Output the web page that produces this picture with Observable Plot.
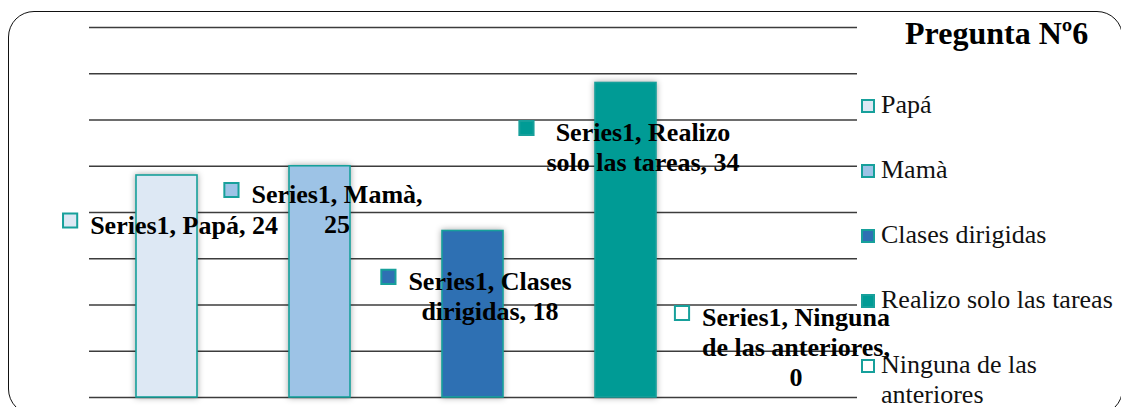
<!DOCTYPE html>
<html>
<head>
<meta charset="utf-8">
<script src="https://cdn.jsdelivr.net/npm/d3@7"></script>
<script src="https://cdn.jsdelivr.net/npm/@observablehq/plot@0.6"></script>
<style>
  html, body { margin: 0; padding: 0; background: #fff; }
  #wrap { position: relative; width: 1121px; height: 407px; overflow: hidden; font-family: "Liberation Serif", "Times New Roman", serif; }
  #frame { position: absolute; left: 8px; top: 11px; width: 1115px; height: 404px; border: 1.3px solid #111; border-radius: 26px; box-sizing: border-box; pointer-events: none; }
  #title { position: absolute; left: 905px; top: 17px; font-family: "Liberation Serif", "Times New Roman", serif; font-size: 32px; line-height: 32px; font-weight: bold; color: #000; white-space: nowrap; }
  .lg-text { position: absolute; left: 881px; width: 234px; font-family: "Liberation Serif", "Times New Roman", serif; font-size: 26px; line-height: 30px; color: #111; }
  .lg-mark { position: absolute; left: 861px; width: 14px; height: 14px; box-sizing: border-box; border: 2px solid #17a09b; }
  #chart { position: absolute; left: 0; top: 0; }
  .bars rect { filter: drop-shadow(0px 0px 3px rgba(0,0,0,0.35)); }
</style>
</head>
<body>
<div id="wrap">
  <div id="chart"></div>
  <div id="frame"></div>
  <div id="title"></div>
</div>
<script>
// ---- data ----
const titleText = "Pregunta Nº6";
const seriesName = "Series1";
const categories = ["Papá", "Mamà", "Clases dirigidas", "Realizo solo las tareas", "Ninguna de las anteriores"];
const values = [24, 25, 18, 34, 0];
const fills = ["#dde8f4", "#9dc3e6", "#2e70b3", "#009b95", "#ffffff"];
const labelTexts = [
  "Series1, Papá, 24",
  "Series1, Mamà,\n25",
  "Series1, Clases\ndirigidas, 18",
  "Series1, Realizo\nsolo las tareas, 34",
  "Series1, Ninguna\nde las anteriores,\n0"
];
// y (in data units) of the top of each data label
const labelY = [20.0, 23.3, 13.9, 30, 10];
const gridValues = [0, 5, 10, 15, 20, 25, 30, 35, 40];

// ---- build ----
const teal = "#17a09b";
const labelFont = "bold 26px 'Liberation Serif'";
const ctx = document.createElement("canvas").getContext("2d");
ctx.font = labelFont;

const rows = categories.map((c, i) => {
  const lines = labelTexts[i].split("\n");
  const maxW = d3.max(lines, l => ctx.measureText(l).width);
  return { cat: c, value: values[i], fill: fills[i], label: labelTexts[i], ly: labelY[i], maxW };
});

const textDx = 17;

const markers = rows.map(r => Plot.dot([r], {
  x: "cat", y: "ly",
  dx: textDx - r.maxW / 2 - 20, dy: 8,
  symbol: "square", r: 8,
  fill: r.fill, stroke: teal, strokeWidth: 2
}));

const chart = Plot.plot({
  width: 1121,
  height: 407,
  marginLeft: 89,
  marginRight: 264,
  marginTop: 27,
  marginBottom: 10,
  x: { domain: categories, paddingInner: 0.6, paddingOuter: 0.3, axis: null },
  y: { domain: [0, 40], axis: null },
  style: { fontFamily: "'Liberation Serif', 'Times New Roman', serif", background: "transparent", overflow: "visible" },
  marks: [
    Plot.ruleY(gridValues, { stroke: "#3c3c3c", strokeWidth: 1.4 }),
    Plot.barY(rows, {
      x: "cat", y: "value", fill: "fill",
      stroke: teal, strokeWidth: 1.6,
      strokeOpacity: d => d.value > 0 ? 1 : 0,
      className: "bars"
    }),
    Plot.text(rows, {
      x: "cat", y: "ly", text: "label", dx: textDx,
      lineAnchor: "top", textAnchor: "middle",
      fontSize: 26, fontWeight: "bold", lineHeight: 30 / 26,
      fill: "#000"
    }),
    ...markers
  ]
});
document.getElementById("chart").appendChild(chart);

// ---- title & legend (HTML overlay) ----
document.getElementById("title").textContent = titleText;
const wrap = document.getElementById("wrap");
const firstBaseline = 114, rowStep = 65;
categories.forEach((c, i) => {
  const base = firstBaseline + i * rowStep;
  const m = document.createElement("div");
  m.className = "lg-mark";
  m.style.top = (base - 15) + "px";
  m.style.background = fills[i];
  wrap.appendChild(m);
  const t = document.createElement("div");
  t.className = "lg-text";
  t.style.top = (base - 23.8) + "px";
  t.textContent = c;
  wrap.appendChild(t);
});
</script>
</body>
</html>
